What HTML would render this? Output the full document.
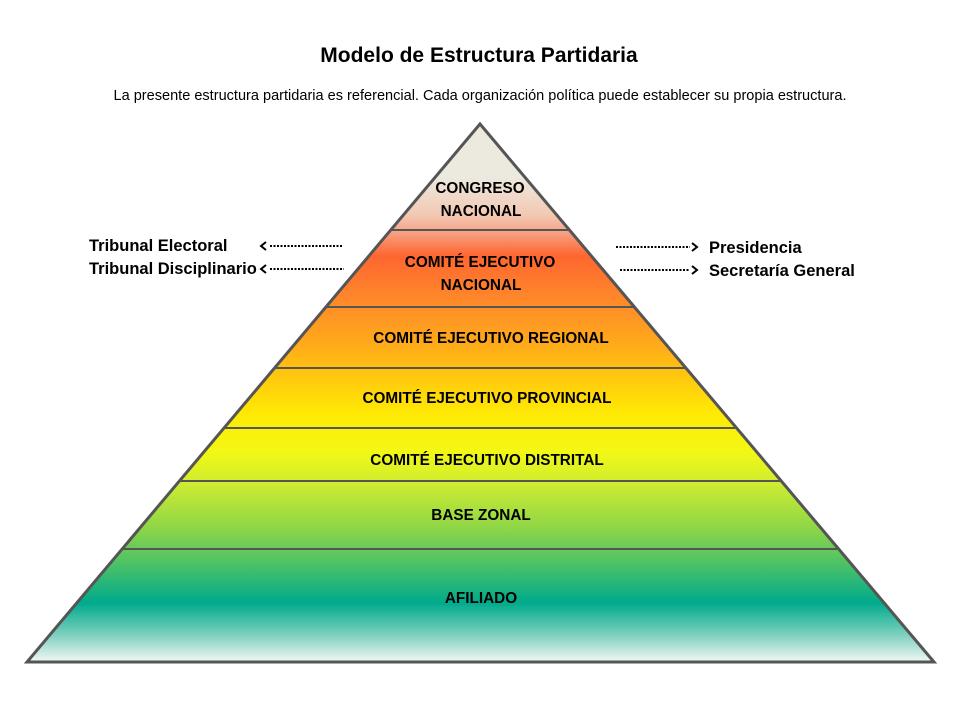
<!DOCTYPE html>
<html><head><meta charset="utf-8"><style>
html,body{margin:0;padding:0;background:#fff;width:960px;height:720px;overflow:hidden}
svg text{font-family:"Liberation Sans",sans-serif}
</style></head><body>
<svg width="960" height="720" viewBox="0 0 960 720" xmlns="http://www.w3.org/2000/svg">
<defs>
<linearGradient id="g" x1="0" y1="124" x2="0" y2="662" gradientUnits="userSpaceOnUse">
<stop offset="0" stop-color="#ece9df"/>
<stop offset="0.10" stop-color="#ece9df"/>
<stop offset="0.17" stop-color="#f3c8b2"/>
<stop offset="0.20" stop-color="#f6a386"/>
<stop offset="0.245" stop-color="#fe6630"/>
<stop offset="0.33" stop-color="#ff8a2a"/>
<stop offset="0.40" stop-color="#ffa61c"/>
<stop offset="0.47" stop-color="#ffc80e"/>
<stop offset="0.54" stop-color="#ffea04"/>
<stop offset="0.61" stop-color="#f2f814"/>
<stop offset="0.67" stop-color="#cdec32"/>
<stop offset="0.75" stop-color="#8fd646"/>
<stop offset="0.83" stop-color="#3fbe6c"/>
<stop offset="0.89" stop-color="#00aa8c"/>
<stop offset="0.95" stop-color="#7fd0bf"/>
<stop offset="1" stop-color="#f2f8f5"/>
</linearGradient>
</defs>
<text x="479" y="62" text-anchor="middle" font-size="21" font-weight="bold" fill="#000">Modelo de Estructura Partidaria</text>
<text x="480" y="100" text-anchor="middle" font-size="14.5" fill="#000" textLength="733" lengthAdjust="spacingAndGlyphs">La presente estructura partidaria es referencial. Cada organización política puede establecer su propia estructura.</text>
<polygon points="480,124 27,662 934,662" fill="url(#g)" stroke="#555" stroke-width="3" stroke-linejoin="miter"/>
<g stroke="#555" stroke-width="2">
<line x1="391" y1="230" x2="570" y2="230"/>
<line x1="327" y1="307" x2="634" y2="307"/>
<line x1="276" y1="368" x2="685" y2="368"/>
<line x1="225" y1="428" x2="735" y2="428"/>
<line x1="180" y1="481" x2="780" y2="481"/>
<line x1="123" y1="549" x2="837" y2="549"/>
</g>
<g font-size="15.3" font-weight="bold" fill="#000" text-anchor="middle">
<text x="480" y="193">CONGRESO</text>
<text x="481" y="216">NACIONAL</text>
<text x="480" y="267">COMITÉ EJECUTIVO</text>
<text x="481" y="290">NACIONAL</text>
<text x="491" y="343">COMITÉ EJECUTIVO REGIONAL</text>
<text x="487" y="403">COMITÉ EJECUTIVO PROVINCIAL</text>
<text x="487" y="465">COMITÉ EJECUTIVO DISTRITAL</text>
<text x="481" y="520">BASE ZONAL</text>
<text x="481" y="603">AFILIADO</text>
</g>
<g font-size="16.5" font-weight="bold" fill="#000">
<text x="89" y="251">Tribunal Electoral</text>
<text x="89" y="274">Tribunal Disciplinario</text>
<text x="709" y="253">Presidencia</text>
<text x="709" y="276">Secretaría General</text>
</g>
<g stroke="#000" stroke-width="2" fill="none">
<line x1="270" y1="246" x2="342" y2="246" stroke-dasharray="2,1.5"/>
<polyline points="266,242 261,246 266,250"/>
<line x1="270" y1="269" x2="344" y2="269" stroke-dasharray="2,1.5"/>
<polyline points="266,265 261,269 266,273"/>
<line x1="616" y1="247" x2="690" y2="247" stroke-dasharray="2,1.5"/>
<polyline points="692,243 697,247 692,251"/>
<line x1="620" y1="270" x2="690" y2="270" stroke-dasharray="2,1.5"/>
<polyline points="692,266 697,270 692,274"/>
</g>
</svg>
</body></html>
